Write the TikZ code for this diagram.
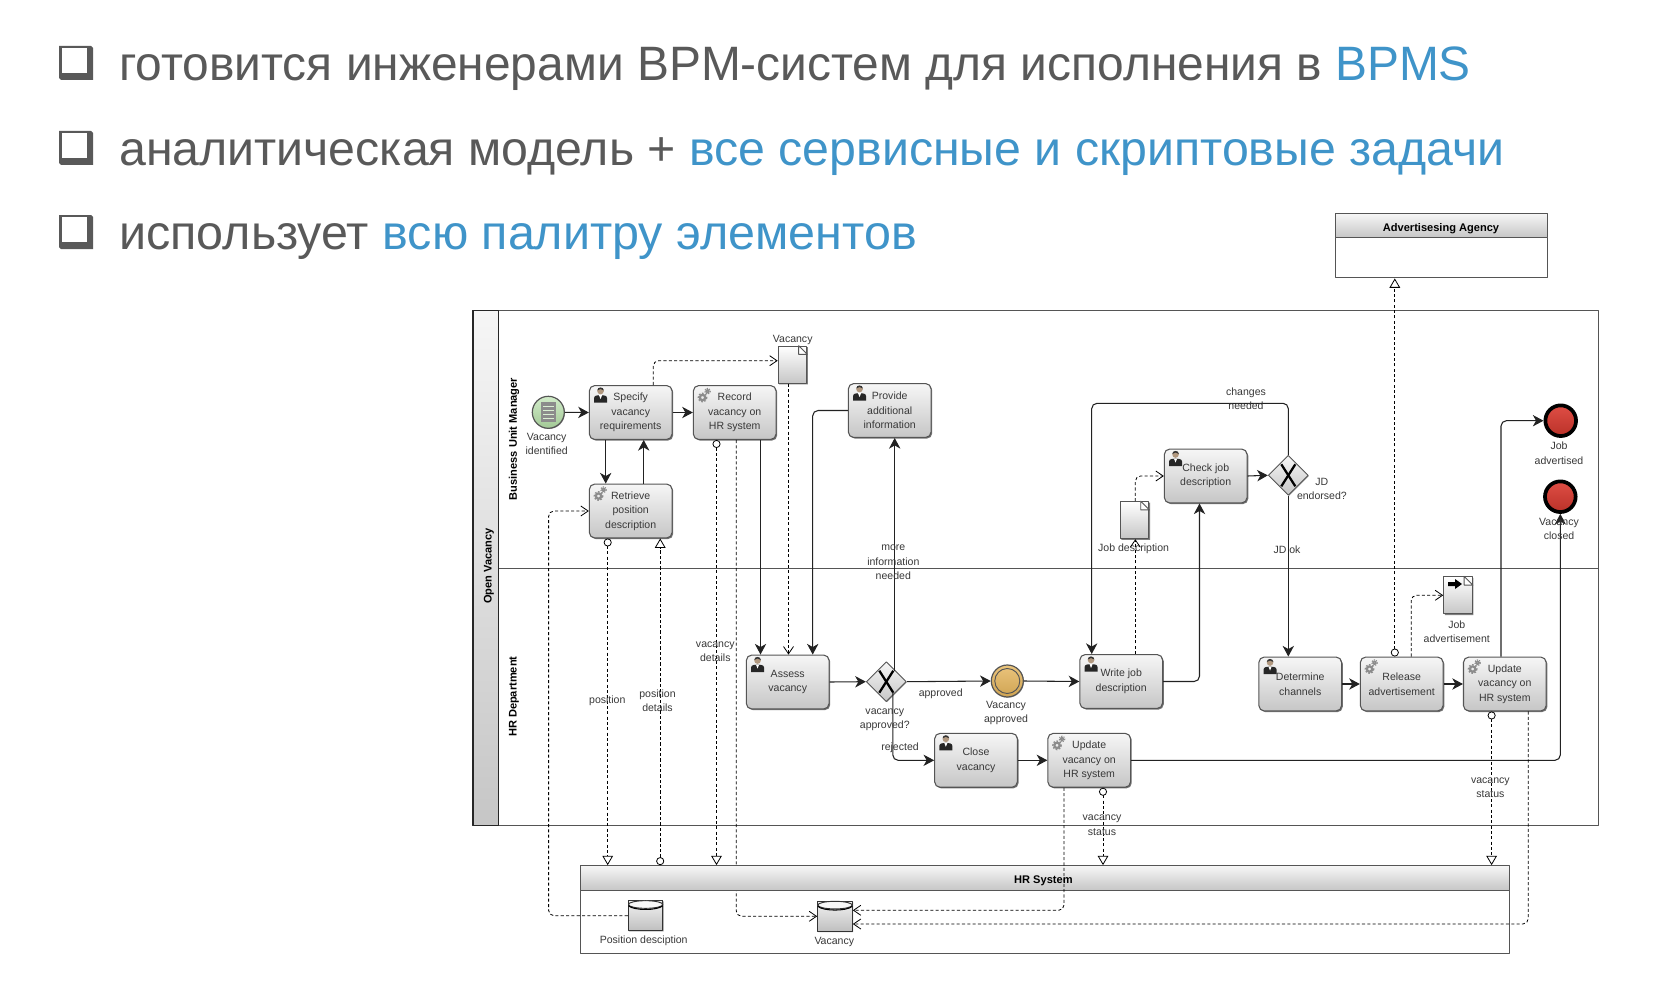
\documentclass[tikz,border=0pt]{standalone}
\usepackage{fontspec}
\usepackage{xcolor}
\setmainfont{Liberation Sans}
\usetikzlibrary{
  arrows.meta,
  shadows,
  shapes.geometric,
  shapes.misc
}
\definecolor{BpmText}{HTML}{595959}
\definecolor{BpmBlue}{HTML}{3F94C9}
\definecolor{BpmLine}{HTML}{222222}
\definecolor{BpmBorder}{HTML}{555555}
\definecolor{BpmTop}{HTML}{F6F6F6}
\definecolor{BpmBottom}{HTML}{C6C6C6}
\definecolor{BpmGreen}{HTML}{B4DFA6}
\definecolor{BpmYellow}{HTML}{E6B65C}
\definecolor{BpmRed}{HTML}{DB3A30}
\tikzset{
  every picture/.style = {line join=round},
  every node/.style = {font=\fontsize{7.9}{10.9}\selectfont, text=black!78, inner sep=0pt, align=center},
  slide line/.style = {font=\fontsize{36.2}{40}\selectfont, text=BpmText, anchor=base west},
  task/.style = {
    draw=BpmBorder,
    line width=0.8pt,
    rounded corners=4pt,
    top color=BpmTop,
    bottom color=BpmBottom,
    minimum width=62pt,
    minimum height=40.4pt,
    drop shadow={shadow xshift=0.9pt, shadow yshift=-0.9pt, fill=black, opacity=0.55}
  },
  gateway/.style = {
    diamond,
    draw=BpmBorder,
    line width=0.7pt,
    top color=BpmTop,
    bottom color=BpmBottom,
    minimum width=30pt,
    minimum height=30pt,
    drop shadow={shadow xshift=0.5pt, shadow yshift=-0.5pt, fill=black, opacity=0.4}
  },
  gate cross/.style = {draw=black, line width=1.7pt},
  start event/.style = {
    circle, minimum size=24pt, draw=BpmBorder, line width=0.9pt,
    top color=BpmGreen!60!white, bottom color=BpmGreen!90!black,
    drop shadow={shadow xshift=0.5pt, shadow yshift=-0.5pt, fill=black, opacity=0.4}
  },
  mid event/.style = {
    circle, minimum size=24pt, draw=BpmBorder, line width=0.9pt,
    top color=BpmYellow!80!white, bottom color=BpmYellow!90!black,
    drop shadow={shadow xshift=0.5pt, shadow yshift=-0.5pt, fill=black, opacity=0.4}
  },
  end event/.style = {
    circle, minimum size=23pt, draw=black, line width=2.8pt,
    top color=BpmRed!90!white, bottom color=BpmRed!85!black
  },
  doc/.style = {
    chamfered rectangle,
    chamfered rectangle corners=north east,
    chamfered rectangle sep=6.5pt,
    draw=BpmBorder,
    line width=0.7pt,
    top color=white,
    bottom color=BpmBottom,
    minimum width=21.5pt,
    minimum height=27.8pt,
    drop shadow={shadow xshift=0.8pt, shadow yshift=-0.8pt, fill=black, opacity=0.5}
  },
  store/.style = {
    cylinder,
    shape border rotate=90,
    aspect=0.22,
    draw=black!80,
    line width=0.7pt,
    top color=black!5,
    bottom color=black!25,
    minimum width=26pt,
    minimum height=22.5pt,
    drop shadow={shadow xshift=0.5pt, shadow yshift=-0.7pt, fill=black, opacity=0.45}
  },
  pool/.style = {draw=BpmBorder, line width=0.8pt},
  pool strip/.style = {pool, draw=black!85, top color=BpmTop, bottom color=BpmBottom},
  pool head/.style = {pool, top color=BpmTop, bottom color=BpmBottom},
  head label/.style = {font=\fontsize{8.3}{10.9}\selectfont\bfseries, text=black},
  lane label/.style = {head label, rotate=90},
  flow label/.style = {yshift=-0.6pt},
  flow/.style = {
    -{Stealth[length=8pt, width=8.5pt, inset=2.4pt]},
    draw=BpmLine, line width=0.8pt, rounded corners=4pt
  },
  dash line/.style = {draw=black, line width=0.6pt, dash pattern=on 2.3pt off 1.7pt, rounded corners=4pt},
  assoc/.style = {dash line, -{Straight Barb[length=5.5pt, width=7.5pt]}},
  message/.style = {
    dash line,
    {Circle[open, fill=white, length=6pt, width=6pt, line width=0.6pt]}-{Triangle[open, fill=white, length=7pt, width=8pt, line width=0.6pt]}
  },
  user icon/.pic = {
    \fill[black!85] (-6.5,7.5) -- (-6.5,3) .. controls (-6.5,0.5) and (-3,0) .. (0,0) .. controls (3,0) and (6.5,0.5) .. (6.5,3) -- (6.5,7.5) -- cycle;
    \fill[white] (-1.6,0) -- (1.6,0) -- (0,4) -- cycle;
    \fill[black!35!brown!60!white] (0,-4) circle (3.3);
    \fill[black!80] (-3.3,-4.6) .. controls (-3.3,-8.6) and (3.3,-8.6) .. (3.3,-4.6) -- (0,-6) -- cycle;
  },
  gear icon/.pic = {
    \draw[black!45, line width=1.7pt] (-2,2.5) circle (2.7);
    \draw[black!45, line width=1pt, dash pattern=on 1.2pt off 1.2pt] (-2,2.5) circle (4.3);
    \draw[black!45, line width=1.2pt] (3,-3.8) circle (1.6);
    \draw[black!45, line width=0.8pt, dash pattern=on 0.9pt off 0.9pt] (3,-3.8) circle (2.8);
  },
  bullet icon/.pic = {
    \fill[BpmText] (0,0) -- (32,0) -- (34,2) -- (34,34) -- (2,34) -- (0,32) -- cycle;
    \fill[white] (2.7,2) rectangle (27.7,27);
  }
}

\begin{document}
\begin{tikzpicture}[x=0.75pt,y=-0.75pt]
  \useasboundingbox (0,0) rectangle (1666,1002);
  \fill[white] (0,0) rectangle (1666,1002);

  \foreach \y in {46,131,215} {
    \pic at (59,\y) {bullet icon};
  }
  \node[slide line, xscale=0.992] (lineone) at (119,81) {готовится инженерами BPM-систем для исполнения в \textcolor{BpmBlue}{BPMS}};
  \node[slide line] (linetwo) at (119,166) {аналитическая модель + \textcolor{BpmBlue}{все сервисные и скриптовые задачи}};
  \node[slide line, xscale=1.004] (linethree) at (119,249) {использует \textcolor{BpmBlue}{всю палитру элементов}};

  \node[pool, minimum width=843.8pt, minimum height=385.6pt] (vacpool) at (1035.5,568) {};
  \node[pool strip, minimum width=18.8pt, minimum height=385.6pt] (vacstrip) at (485.5,568) {};
  \draw[pool, line width=0.7pt] (vacstrip.east) -- (vacpool.east);
  \node[lane label] (vacpoollab) at (489,566) {Open Vacancy};
  \node[lane label] (bumlab) at (514,439) {Business Unit Manager};
  \node[lane label] (hrlab) at (514,696.7) {HR Department};

  \node[pool, minimum width=159.5pt, minimum height=30.3pt] (agencybody) at (1441.6,257.7) {};
  \node[pool head, minimum width=159.5pt, minimum height=18.3pt] (agency) at (1441.6,225.5) {};
  \node[head label] (agencylab) at (1441,229) {Advertisesing Agency};

  \node[start event] (vacident) at (548.3,412.3) {};
  \fill[black!45] (541,401.7) rectangle (556,421.7);
  \foreach \y in {406,410,414,418} {
    \draw[BpmGreen!50!white, line width=0.6pt] (543,\y) -- (554,\y);
  }
  \node[flow label] (vacidentlab) at (546.7,443.3) {Vacancy\\identified};

  \node[task] (spec) at (630.7,412.5) {Specify\\vacancy\\requirements};
  \node[task] (rec) at (734.7,412.5) {Record\\vacancy on\\HR system};
  \node[task] (prov) at (889.7,410.5) {Provide\\additional\\information};
  \node[task] (retr) at (630.7,511) {Retrieve\\position\\description};
  \node[task] (assess) at (787.7,682) {Assess\\vacancy};
  \node[task] (closev) at (976,760.3) {Close\\vacancy};
  \node[task] (updone) at (1089.2,760.3) {Update\\vacancy on\\HR system};
  \node[task] (writejd) at (1121.2,681.5) {Write job\\description};
  \node[task] (checkjd) at (1205.7,476) {Check job\\description};
  \node[task] (determine) at (1300.2,684) {Determine\\channels};
  \node[task] (release) at (1401.7,684) {Release\\advertisement};
  \node[task] (updtwo) at (1504.8,684) {Update\\vacancy on\\HR system};
  \foreach \t in {spec,prov,assess,closev,writejd,checkjd,determine} {
    \pic at ([shift={(11.7,10)}]\t.north west) {user icon};
  }
  \foreach \t in {rec,retr,updone,release,updtwo} {
    \pic at ([shift={(11.7,10)}]\t.north west) {gear icon};
  }

  \node[gateway] (gateone) at (886.3,681.7) {};
  \node[gateway] (gatetwo) at (1288.3,475.3) {};
  \foreach \g in {gateone,gatetwo} {
    \draw[gate cross] ([shift={(-7,-11)}]\g.center) -- ([shift={(7,11)}]\g.center);
    \draw[gate cross] ([shift={(7,-11)}]\g.center) -- ([shift={(-7,11)}]\g.center);
  }
  \node[flow label] (gateonelab) at (884.8,719) {vacancy\\approved?};
  \node[flow label] (gatetwolab) at (1321.9,488.3) {JD\\endorsed?};

  \node[mid event] (vacappr) at (1007.3,681) {};
  \draw[BpmBorder, line width=0.7pt] (vacappr) circle (12.5);
  \node[flow label] (vacapprlab) at (1006,712.3) {Vacancy\\approved};

  \node[end event] (jobadv) at (1560.7,420.7) {};
  \node[end event] (vacclosed) at (1560.3,496.7) {};

  \node[doc] (vacdoc) at (792.5,364.7) {};
  \node[doc] (jobdoc) at (1134.6,520.2) {};
  \node[doc] (advdoc) at (1458,595.4) {};
  \foreach \d in {vacdoc,jobdoc,advdoc} {
    \draw[BpmBorder, line width=0.7pt, fill=white] ([xshift=-6.5pt]\d.east |- \d.north) -- ([xshift=-6.5pt,yshift=-6.5pt]\d.east |- \d.north) -- ([yshift=-6.5pt]\d.east |- \d.north) -- cycle;
  }
  \fill[black] (1448,582) -- (1455,582) -- (1455,579) -- (1462,584) -- (1455,589) -- (1455,586) -- (1448,586) -- cycle;
  \node[flow label] (vacdoclab) at (792.7,338.7) {Vacancy};
  \node[flow label] (jobdoclab) at (1133.6,548) {Job description};
  \node[flow label] (advdoclab) at (1456.8,630.7) {Job\\advertisement};

  \node[pool, minimum width=696.5pt, minimum height=47.3pt] (hrbody) at (1044.9,921.8) {};
  \node[store] (posstore) at (645.6,915.7) {};
  \node[store] (vacstore) at (835,916.3) {};
  \foreach \s in {posstore,vacstore} {
    \draw[black!80, line width=0.7pt, fill=black!3] ([yshift=8.4pt]\s.center) ellipse (17.2 and 3.8);
    \draw[black, line width=0.8pt] ([shift={(-17.2,-10)}]\s.center) .. controls ([shift={(-12,-5)}]\s.center) and ([shift={(12,-5)}]\s.center) .. ([shift={(17.2,-10)}]\s.center);
  }
  \node[flow label] (posstorelab) at (643.7,939.7) {Position desciption};
  \node[flow label] (vacstorelab) at (834.3,940.7) {Vacancy};

  \draw[assoc] (736.3,0 |- rec.south) -- (736.3,916.3) -- (vacstore.west);
  \node[pool head, minimum width=696.5pt, minimum height=18.5pt] (hrhead) at (1044.9,878) {};
  \node[head label] (hrheadlab) at (1043.4,881) {HR System};

  \draw[flow] (vacident.east) -- (spec.west);
  \draw[flow] (605.7,0 |- spec.south) -- (605.7,0 |- retr.north);
  \draw[flow] (643.7,0 |- retr.north) -- (643.7,0 |- spec.south);
  \draw[flow] (spec.east) -- (rec.west);
  \draw[flow] (760.5,0 |- rec.south) -- (760.5,0 |- assess.north);
  \draw[flow] (prov.west) -- (812.7,0 |- prov.west) -- (812.7,0 |- assess.north);
  \draw[flow] (assess.east) -- (gateone.west);
  \draw[flow] (894.7,0 |- gateone.north east) -- (894.7,0 |- prov.south);
  \draw[flow] (gateone.east) -- (vacappr.west);
  \draw[flow] (892.8,0 |- gateone.south east) -- (892.8,0 |- closev.west) -- (closev.west);
  \draw[flow] (closev.east) -- (updone.west);
  \draw[flow] (updone.east) -- (vacclosed.center |- updone.east) -- (vacclosed.south);
  \draw[flow] (vacappr.east) -- (writejd.west);
  \draw[flow] (writejd.east) -- (1199.5,0 |- writejd.east) -- (1199.5,0 |- checkjd.south);
  \draw[flow] (checkjd.east) -- (gatetwo.west);
  \draw[flow] (gatetwo.north) -- (1288.3,403.3) -- (1091.7,403.3) -- (1091.7,0 |- writejd.north);
  \draw[flow] (gatetwo.south) -- (gatetwo.south |- determine.north);
  \draw[flow] (determine.east) -- (release.west);
  \draw[flow] (release.east) -- (updtwo.west);
  \draw[flow] (1501,0 |- updtwo.north) -- (1501,0 |- jobadv.west) -- (jobadv.west);

  \draw[assoc] (653.3,0 |- spec.north) -- (653.3,360.7) -- (vacdoc.west |- 0,360.7);
  \draw[assoc] (788.5,0 |- vacdoc.south) -- (788.5,0 |- assess.north);
  \draw[assoc] (posstore.west) -- (548.6,0 |- posstore.west) -- (548.6,0 |- retr.west) -- (retr.west);
  \draw[assoc] (1064,0 |- updone.south) -- (1064,910.3) -- (vacstore.east |- 0,910.3);
  \draw[assoc] (1528.3,0 |- updtwo.south) -- (1528.3,924) -- (vacstore.east |- 0,924);
  \draw[assoc] (1135.3,0 |- writejd.north) -- (1135.3,0 |- jobdoc.south);
  \draw[assoc] (1135.3,0 |- jobdoc.north) -- (1135.3,0 |- checkjd.west) -- (checkjd.west);
  \draw[assoc] (1411.2,0 |- release.north) -- (1411.2,595.3) -- (advdoc.west |- 0,595.3);

  \draw[message] (607.7,0 |- retr.south) -- (607.7,0 |- hrhead.north);
  \draw[message] (660.2,0 |- hrhead.north) -- (660.2,0 |- retr.south);
  \draw[message] (716.5,0 |- rec.south) -- (716.5,0 |- hrhead.north);
  \draw[message] (1103,0 |- updone.south) -- (1103,0 |- hrhead.north);
  \draw[message] (1491.6,0 |- updtwo.south) -- (1491.6,0 |- hrhead.north);
  \draw[message] (1394.8,0 |- release.north) -- (1394.8,0 |- agencybody.south);

  \node[flow label] (morelab) at (893.3,561.7) {more\\information\\needed};
  \node[flow label] (apprlab) at (940.7,693.3) {approved};
  \node[flow label] (rejlab) at (900,747) {rejected};
  \node[flow label] (changelab) at (1246,397.7) {changes\\needed};
  \node[flow label] (jdoklab) at (1287,549) {JD ok};
  \node[flow label] (poslab) at (607.3,700) {position};
  \node[flow label] (posdetlab) at (657.5,699.7) {position\\details};
  \node[flow label] (vacdetlab) at (715.3,650.7) {vacancy\\details};
  \node[flow label] (statonelab) at (1102,824.3) {vacancy\\status};
  \node[flow label] (stattwolab) at (1490.4,786.7) {vacancy\\status};
  \node[flow label] (jobadvlab) at (1559,452.3) {Job\\advertised};
  \node[flow label] (vacclosedlab) at (1559,528.3) {Vacancy\\closed};
\end{tikzpicture}
\end{document}
